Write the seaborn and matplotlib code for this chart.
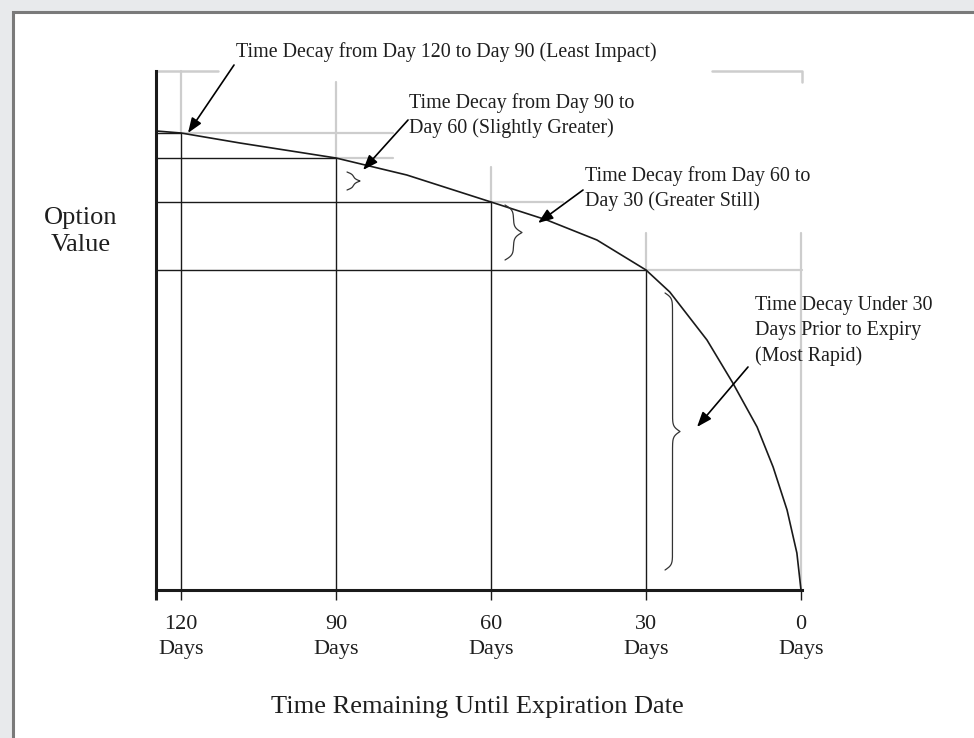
import numpy as np
import pandas as pd
import matplotlib
matplotlib.use("Agg")
import matplotlib.pyplot as plt
import seaborn as sns
from matplotlib.patches import Rectangle

# option value vs days remaining
days = [124.8, 120, 108.6, 90, 76.3, 60, 49.2, 39.5, 30, 25.4, 18.2, 13.2, 8.5, 5.4, 2.7, 0.8, 0]
value = [4.59, 4.57, 4.47, 4.32, 4.15, 3.88, 3.70, 3.50, 3.20, 2.98, 2.50, 2.07, 1.63, 1.23, 0.80, 0.37, 0.0]

tick_days = [120, 90, 60, 30, 0]
tick_labels = ["120\nDays", "90\nDays", "60\nDays", "30\nDays", "0\nDays"]

notes = [
    "Time Decay from Day 120 to Day 90 (Least Impact)",
    "Time Decay from Day 90 to\nDay 60 (Slightly Greater)",
    "Time Decay from Day 60 to\nDay 30 (Greater Still)",
    "Time Decay Under 30\nDays Prior to Expiry\n(Most Rapid)",
]

df = pd.DataFrame({"days": days, "value": value})
level = dict(zip(days, value))

sns.set_theme(style="white")
plt.rcParams["font.family"] = ["Liberation Serif", "DejaVu Serif"]

fig = plt.figure(figsize=(9.74, 7.38), dpi=100, facecolor="#e8eaec")
# white page with grey frame, like the screenshot
fig.patches.append(Rectangle((13 / 974, -0.02), 1.0, (738 - 12) / 738 + 0.02,
                             transform=fig.transFigure, facecolor="white",
                             edgecolor="#7a7a7a", lw=2.2, zorder=-5))

x_left, x_right = 124.84, -1.74
y_top = 5.19
ax = fig.add_axes([156 / 974, (738 - 590) / 738, 654 / 974, 519 / 738])
ax.set_zorder(2)
ax.set_facecolor("none")
ax.set_xlim(x_left, x_right)
ax.set_ylim(0, y_top)

gray = "#cdcdcd"
dark = "#1a1a1a"

# light grey parts of the grid (above the curve / to the right)
gray_top = [y_top, 5.08, 4.23, 3.57, 3.57]
gray_right = [78.97, 78.97, 46.1, -0.2]
for d, top in zip(tick_days, gray_top):
    ax.plot([d, d], [level[d], top], color=gray, lw=1.6, zorder=1, clip_on=False)
for d, r in zip(tick_days[:4], gray_right):
    ax.plot([d, r], [level[d], level[d]], color=gray, lw=1.6, zorder=1, clip_on=False)
ax.plot([x_left, 112.8], [y_top, y_top], color=gray, lw=1.8, zorder=1, clip_on=False)
ax.plot([17.2, -0.2, -0.2], [y_top, y_top, 5.08], color=gray, lw=1.8, zorder=1, clip_on=False)

# dark grid lines under the curve
for d in tick_days[:4]:
    ax.plot([d, d], [0, level[d]], color=dark, lw=1.0, zorder=2)
    ax.plot([x_left, d], [level[d], level[d]], color=dark, lw=1.0, zorder=2)

sns.lineplot(data=df, x="days", y="value", ax=ax, color=dark, lw=1.2, zorder=3)


def brace(ax, x0, x1, y0, y1):
    # curly brace, ends at x0, tip at x1, from y0 to y1
    n = 150
    L = abs(ax.transData.transform((0, y1))[1] - ax.transData.transform((0, y0))[1])
    b = max(L / 2.5, 14)
    t = np.linspace(0, 0.5, n)
    half = 1 / (1 + np.exp(-b * (t - t[0]))) + 1 / (1 + np.exp(-b * (t - t[-1])))
    g = np.concatenate([half, half[-2::-1]]) - 0.5
    s = np.linspace(0, 1, len(g))
    ax.plot(x0 + g * (x1 - x0), y0 + s * (y1 - y0), color="#333333", lw=0.9, zorder=3)


brace(ax, 87.87, 85.36, 4.18, 4.00)
brace(ax, 57.29, 54.0, 3.85, 3.30)
brace(ax, 26.32, 23.42, 2.97, 0.20)

arrow = dict(arrowstyle="-|>,head_length=0.45,head_width=0.17", color="black",
             lw=1.2, mutation_scale=20, shrinkA=0, shrinkB=0)
text_kw = dict(fontsize=14.4, color="#1e1e1e", ha="left", va="center",
               linespacing=1.4, annotation_clip=False)

ax.annotate("", xy=(118.65, 4.57), xytext=(109.74, 5.25), arrowprops=arrow, annotation_clip=False)
ax.annotate(notes[0], xy=(109.35, 5.38), **text_kw)
ax.annotate("", xy=(84.77, 4.20), xytext=(76.06, 4.70), arrowprops=arrow, annotation_clip=False)
ax.annotate(notes[1], xy=(75.87, 4.745), **text_kw)
ax.annotate("", xy=(50.90, 3.67), xytext=(42.19, 4.00), arrowprops=arrow, annotation_clip=False)
ax.annotate(notes[2], xy=(41.81, 4.015), **text_kw)
ax.annotate("", xy=(20.13, 1.63), xytext=(10.26, 2.23), arrowprops=arrow, annotation_clip=False)
ax.annotate(notes[3], xy=(8.9, 2.59), **text_kw)

# axes
for side in ["top", "right"]:
    ax.spines[side].set_visible(False)
for side in ["left", "bottom"]:
    ax.spines[side].set_color(dark)
    ax.spines[side].set_linewidth(2.2)
    ax.spines[side].set_zorder(4)
ax.spines["bottom"].set_bounds(x_left, -0.2)

ax.set_xticks(tick_days, tick_labels)
ax.set_xticks([x_left], minor=True)
ax.tick_params(axis="x", which="major", bottom=True, length=7.2, width=1.0, color=dark,
               direction="out", pad=11, labelsize=16, labelcolor="#1e1e1e")
ax.tick_params(axis="x", which="minor", bottom=True, length=7.2, width=2.2, color=dark,
               direction="out")
for lab in ax.get_xticklabels():
    lab.set_multialignment("center")
    lab.set_linespacing(1.4)
ax.set_yticks([])

ax.set_xlabel("Time Remaining Until Expiration Date", fontsize=19, color="#1e1e1e")
ax.xaxis.set_label_coords(0.492, -0.225)
ax.xaxis.label.set_va("center")
ax.set_ylabel("Option\nValue", fontsize=19, color="#1e1e1e", rotation=0,
              ha="center", va="center", linespacing=1.3)
ax.yaxis.set_label_coords(-0.1147, 0.69)

fig.savefig("out.png", dpi=100, facecolor=fig.get_facecolor())
